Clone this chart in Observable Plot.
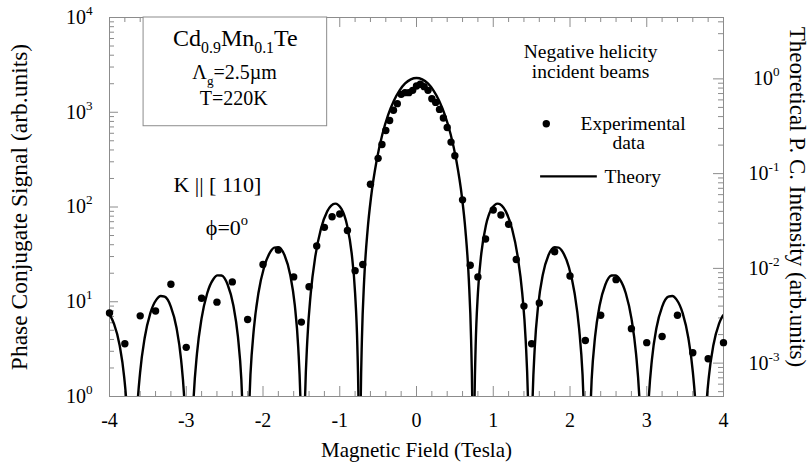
<!DOCTYPE html>
<html><head><meta charset="utf-8">
<script src="https://cdn.jsdelivr.net/npm/d3@7"></script>
<script src="https://cdn.jsdelivr.net/npm/@observablehq/plot@0.6"></script>
<style>html,body{margin:0;padding:0;background:#fff} svg{display:block}</style>
</head><body><div id="chart"></div>
<script>
// ---------- data ----------
const expX = [-4.0,-3.8,-3.6,-3.4,-3.2,-3.0,-2.8,-2.6,-2.4,-2.2,-2.0,-1.8,-1.6,-1.5,-1.4,-1.3,-1.2,-1.1,-1.0,-0.9,
  -0.8,-0.7,-0.6,-0.5,-0.45,-0.4,-0.35,-0.3,-0.25,-0.2,-0.15,-0.1,-0.05,0,0.05,0.1,0.15,0.2,0.25,0.3,
  0.35,0.4,0.45,0.5,0.6,0.7,0.8,0.9,1.0,1.1,1.2,1.3,1.4,1.5,1.6,1.8,2.0,2.2,2.4,2.6,2.8,3.0,3.2,3.4,3.6,3.8,4.0];
const expY = [7.6,3.6,7.1,8.0,15.3,3.3,10.9,9.9,16.2,6.5,24.7,35.1,18.3,6.1,14.4,38.7,61,79,84.5,56.5,
  21.3,24.7,174,326,456,641,818,1050,1233,1545,1610,1610,1702,1892,1972,1864,1702,1390,1270,1072,
  871,690,484,348,119,24.3,18.3,45.9,93,82.4,65.7,27.9,9.0,3.6,9.7,33.7,18.7,3.9,7.2,17.1,5.2,3.7,4.3,7.2,2.9,2.5,3.7];

// theory curve, one array of [field, signal] per lobe
const theoryL5 = [[-4.0755,7.70],[-4.0236,7.53],[-3.9421,5.87],[-3.8680,3.47],[-3.8087,1.60],[-3.7643,0.558],[-3.7346,0.144]];
const theoryL4 = [[-3.6754,0.149],[-3.6457,0.595],[-3.6013,1.79],[-3.5420,4.14],[-3.4679,7.58],[-3.3864,10.6],[-3.3345,11.5],[-3.2816,11.3],[-3.2011,8.90],[-3.1270,5.32],[-3.0677,2.47],[-3.0233,0.866],[-2.9936,0.224]];
const theoryL3 = [[-2.9344,0.233],[-2.9047,0.94],[-2.8603,2.84],[-2.8010,6.63],[-2.7269,12.3],[-2.6454,17.4],[-2.5935,19.0],[-2.5416,18.9],[-2.4601,15.1],[-2.3860,9.13],[-2.3267,4.28],[-2.2823,1.52],[-2.2526,0.396]];
const theoryL2 = [[-2.1934,0.418],[-2.1637,1.69],[-2.1193,5.16],[-2.0600,12.3],[-1.9859,23.1],[-1.9044,33.6],[-1.8525,37.3],[-1.8006,37.6],[-1.7191,30.9],[-1.6450,19.2],[-1.5857,9.22],[-1.5413,3.33],[-1.5116,0.88],[-1.4968,0.225]];
const theoryL1 = [[-1.4672,0.234],[-1.4524,0.95],[-1.4227,3.91],[-1.3783,12.2],[-1.3190,29.9],[-1.2449,58.9],[-1.1634,90.0],[-1.1115,103.6],[-1.0596,108.5],[-0.9781,95.3],[-0.9040,63.6],[-0.8447,32.5],[-0.8003,12.4],[-0.7706,3.38],[-0.7558,0.883],[-0.7484,0.225]];
const theoryC  = [[-0.7336,0.235],[-0.7262,0.96],[-0.7114,3.97],[-0.6817,17.1],[-0.6373,57.1],[-0.5928,126],[-0.5187,311],[-0.4446,586],[-0.3705,932],[-0.2964,1318],[-0.2223,1695],[-0.1482,2013],[-0.0741,2225],[0,2300],[0.0741,2225],[0.1482,2013],[0.2223,1695],[0.2964,1318],[0.3705,932],[0.4446,586],[0.5187,311],[0.5928,126],[0.6373,57.1],[0.6817,17.1],[0.7114,3.97],[0.7262,0.96],[0.7336,0.235]];
const theoryR1 = [[0.7484,0.225],[0.7558,0.883],[0.7706,3.38],[0.8003,12.4],[0.8447,32.5],[0.9040,63.6],[0.9781,95.3],[1.0596,108.5],[1.1115,103.6],[1.1634,90.0],[1.2449,58.9],[1.3190,29.9],[1.3783,12.2],[1.4227,3.91],[1.4524,0.95],[1.4672,0.234]];
const theoryR2 = [[1.4968,0.225],[1.5116,0.88],[1.5413,3.33],[1.5857,9.22],[1.6450,19.2],[1.7191,30.9],[1.8006,37.6],[1.8525,37.3],[1.9044,33.6],[1.9859,23.1],[2.0600,12.3],[2.1193,5.16],[2.1637,1.69],[2.1934,0.418]];
const theoryR3 = [[2.2526,0.396],[2.2823,1.52],[2.3267,4.28],[2.3860,9.13],[2.4601,15.1],[2.5416,18.9],[2.5935,19.0],[2.6454,17.4],[2.7269,12.3],[2.8010,6.63],[2.8603,2.84],[2.9047,0.94],[2.9344,0.233]];
const theoryR4 = [[2.9936,0.224],[3.0233,0.866],[3.0677,2.47],[3.1270,5.32],[3.2011,8.90],[3.2816,11.3],[3.3345,11.5],[3.3864,10.6],[3.4679,7.58],[3.5420,4.14],[3.6013,1.79],[3.6457,0.595],[3.6754,0.149]];
const theoryR5 = [[3.7346,0.144],[3.7643,0.558],[3.8087,1.60],[3.8680,3.47],[3.9421,5.87],[4.0236,7.53],[4.0755,7.70]];
const theoryLobes = [theoryL5,theoryL4,theoryL3,theoryL2,theoryL1,theoryC,theoryR1,theoryR2,theoryR3,theoryR4,theoryR5];

// axes
const xTicks = [-4,-3,-2,-1,0,1,2,3,4];
const xTickLabels = ["-4","-3","-2","-1","0","1","2","3","4"];
const yTicks = [1,10,100,1000,10000];
const yTickLabels = ["10^{0}","10^{1}","10^{2}","10^{3}","10^{4}"];
const rightTicks = [0.001,0.01,0.1,1];
const rightTickLabels = ["10^{-3}","10^{-2}","10^{-1}","10^{0}"];
const rightToLeft = 2250; // theory intensity 1 <-> signal 2250

// ---------- build tables ----------
const exp = expX.map((x,i)=>({x, y: expY[i]}));
const theory = theoryLobes.flatMap((lobe,k)=>lobe.map(([x,y])=>({x,y,lobe:k})));
const xMinor = d3.range(-40,41,2).map(d=>d/10).filter(d=>Math.abs(d-Math.round(d))>1e-9);
const yMinor = [];
for (let k=0;k<4;k++) for (let m=2;m<=9;m++) yMinor.push(m*10**k);
const rMinor = [];
for (let k=-4;k<=0;k++) for (let m=2;m<=9;m++){ const v=m*10**k*rightToLeft; if(v>1&&v<1e4) rMinor.push(v); }

const W=812,H=468,mL=109,mR=89,mT=17,mB=72;
const iW=W-mL-mR, iH=H-mT-mB;
const gray="#8c8c8c";
const ink="#000";
const serif="'Liberation Serif','Times New Roman',Times,serif";

const plot = Plot.plot({
  width:W, height:H, marginLeft:mL, marginRight:mR, marginTop:mT, marginBottom:mB,
  style:{fontFamily:serif, background:"#fff", color:ink, overflow:"visible"},
  x:{domain:[-4,4], axis:null},
  y:{type:"log", domain:[1,1e4], axis:null},
  marks:[
    // ticks (inward)
    Plot.tickX(xTicks,{x:d=>d, stroke:gray, insetTop:iH-10}),
    Plot.tickX(xMinor,{x:d=>d, stroke:gray, insetTop:iH-5}),
    Plot.tickX(xTicks,{x:d=>d, stroke:gray, insetBottom:iH-10}),
    Plot.tickX(xMinor,{x:d=>d, stroke:gray, insetBottom:iH-5}),
    Plot.tickY(yTicks,{y:d=>d, stroke:gray, insetRight:iW-9}),
    Plot.tickY(yMinor,{y:d=>d, stroke:gray, insetRight:iW-5}),
    Plot.tickY(rightTicks,{y:d=>d*rightToLeft, stroke:gray, insetLeft:iW-10}),
    Plot.tickY(rMinor,{y:d=>d, stroke:gray, insetLeft:iW-5}),
    Plot.frame({stroke:gray}),
    // tick labels
    Plot.text(xTicks,{x:d=>d, frameAnchor:"bottom", lineAnchor:"middle", dy:24, text:(d,i)=>xTickLabels[i], fontSize:20, fontFamily:serif, fill:ink}),
    Plot.text(yTicks,{y:d=>d, frameAnchor:"left", lineAnchor:"middle", dx:-17, textAnchor:"end", text:(d,i)=>yTickLabels[i], fontSize:20, fontFamily:serif, fill:ink}),
    Plot.text(rightTicks,{y:d=>d*rightToLeft, frameAnchor:"right", lineAnchor:"middle", dx:56, textAnchor:"end", text:(d,i)=>rightTickLabels[i], fontSize:20, fontFamily:serif, fill:ink}),
    // axis titles
    Plot.text(["Phase Conjugate Signal (arb.units)"],{frameAnchor:"left", textAnchor:"middle", lineAnchor:"middle", text:d=>d, rotate:-90, dx:-90, fontSize:23.5, fontFamily:serif, fill:ink}),
    Plot.text(["Theoretical P. C. Intensity (arb.units)"],{frameAnchor:"right", textAnchor:"middle", lineAnchor:"middle", text:d=>d, rotate:90, dx:74, dy:-10, fontSize:23, fontFamily:serif, fill:ink}),
    Plot.text(["Magnetic Field (Tesla)"],{frameAnchor:"bottom", textAnchor:"middle", lineAnchor:"middle", text:d=>d, dy:54, fontSize:21, fontFamily:serif, fill:ink}),
    // data
    Plot.line(theory,{x:"x", y:"y", z:"lobe", curve:"monotone-x", stroke:ink, strokeWidth:2.4, clip:true}),
    Plot.dot(exp,{x:"x", y:"y", r:3.7, fill:ink, stroke:null}),
    // annotation box
    Plot.rect([0],{x1:-3.556, x2:-1.164, y1:712, y2:1e4, fill:"#fff", stroke:gray}),
    Plot.text(["Cd_{0.9}Mn_{0.1}Te"],{x:-2.36, y:6100, text:d=>d, fontSize:24, fontFamily:serif, fill:ink}),
    Plot.text(["Λ_{g}=2.5µm"],{x:-2.37, y:2620, text:d=>d, fontSize:20, fontFamily:serif, fill:ink}),
    Plot.text(["T=220K"],{x:-2.38, y:1390, text:d=>d, fontSize:20, fontFamily:serif, fill:ink}),
    Plot.text(["K || [ 110]"],{x:-2.594, y:171, text:d=>d, fontSize:22, fontFamily:serif, fill:ink}),
    Plot.text(["ϕ=0^{o}"],{x:-2.47, y:60, text:d=>d, fontSize:22, fontFamily:serif, fill:ink}),
    // legend
    Plot.text(["Negative helicity"],{x:2.268, y:4315, text:d=>d, fontSize:19.5, fontFamily:serif, fill:ink}),
    Plot.text(["incident beams"],{x:2.268, y:2662, text:d=>d, fontSize:19.5, fontFamily:serif, fill:ink}),
    Plot.dot([0],{x:1.691, y:755, r:3.7, fill:ink, stroke:null}),
    Plot.text(["Experimental"],{x:2.138, y:755, text:d=>d, textAnchor:"start", fontSize:19.5, fontFamily:serif, fill:ink}),
    Plot.text(["data"],{x:2.764, y:475, text:d=>d, fontSize:19.5, fontFamily:serif, fill:ink}),
    Plot.ruleY([210],{x1:1.617, x2:2.356, y:d=>d, stroke:ink, strokeWidth:2.3}),
    Plot.text(["Theory"],{x:2.451, y:210, text:d=>d, textAnchor:"start", fontSize:19.5, fontFamily:serif, fill:ink})
  ]
});
document.getElementById("chart").appendChild(plot);

// sub/superscripts as real tspans
function richify(svg){
  svg.querySelectorAll("text").forEach(t=>{
    const s=t.textContent;
    if(!/[_^]\{/.test(s)) return;
    const fs=parseFloat(getComputedStyle(t).fontSize)||16;
    const parts=s.split(/([_^]\{[^}]*\})/).filter(p=>p.length);
    while(t.firstChild) t.removeChild(t.firstChild);
    let cur=0;
    for(const p of parts){
      let target=0, txt=p, small=false;
      if(p.startsWith("_{")){target=0.3*fs; txt=p.slice(2,-1); small=true;}
      else if(p.startsWith("^{")){target=-0.45*fs; txt=p.slice(2,-1); small=true;}
      const ts=document.createElementNS("http://www.w3.org/2000/svg","tspan");
      if(target!==cur) ts.setAttribute("dy",(target-cur)+"px");
      if(small) ts.setAttribute("font-size",(0.66*fs)+"px");
      ts.textContent=txt;
      t.appendChild(ts);
      cur=target;
    }
  });
}
richify(plot);
</script>
</body></html>
